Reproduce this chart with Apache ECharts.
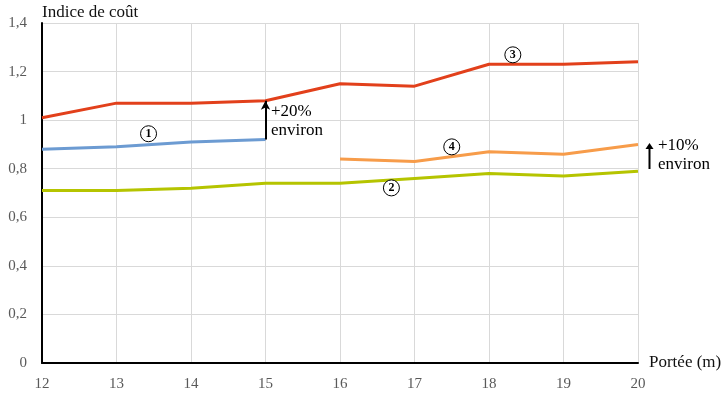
<!DOCTYPE html>
<html>
<head>
<meta charset="utf-8">
<script src="https://cdn.jsdelivr.net/npm/echarts@6/dist/echarts.min.js"></script>
<style>
  html, body { margin: 0; padding: 0; background: #fff; }
  #main { width: 726px; height: 393px; }
</style>
</head>
<body>
<div id="main"></div>
<script>
(function() {
    'use strict';
    // données
    var portee = [12, 13, 14, 15, 16, 17, 18, 19, 20];
    var serie1 = [0.88, 0.89, 0.91, 0.92, null, null, null, null, null];
    var serie2 = [0.71, 0.71, 0.72, 0.74, 0.74, 0.76, 0.78, 0.77, 0.79];
    var serie3 = [1.01, 1.07, 1.07, 1.08, 1.15, 1.14, 1.23, 1.23, 1.24];
    var serie4 = [null, null, null, null, 0.84, 0.83, 0.87, 0.86, 0.90];
    var yTicks = [0, 0.2, 0.4, 0.6, 0.8, 1, 1.2, 1.4];
    // repères numérotés [x, y, numéro]
    var reperes = [[13.43, 0.944, '1'], [16.69, 0.721, '2'], [18.32, 1.269, '3'], [17.5, 0.89, '4']];

    var FONT = 'Liberation Serif';

    function pairs(vals) {
        var out = [];
        for (var i = 0; i < portee.length; i++) {
            if (vals[i] != null) out.push([portee[i], vals[i]]);
        }
        return out;
    }

    function repere(r) {
        return {
            coord: [r[0], r[1]],
            symbol: 'circle',
            symbolSize: 16,
            itemStyle: { color: '#fff', borderColor: '#000', borderWidth: 1 },
            label: {
                show: true, position: 'inside', formatter: r[2],
                color: '#000', fontFamily: FONT, fontWeight: 'bold', fontSize: 12
            }
        };
    }

    function ligne(nom, vals, couleur, extra) {
        var s = {
            name: nom,
            type: 'line',
            data: pairs(vals),
            symbol: 'none',
            silent: true,
            animation: false,
            lineStyle: { color: couleur, width: 3 },
            itemStyle: { color: couleur },
            z: 3
        };
        if (extra) {
            for (var k in extra) s[k] = extra[k];
        }
        return s;
    }

    var chart = echarts.init(document.getElementById('main'));
    var option = {
        animation: false,
        grid: { left: 42, right: 88, top: 23, bottom: 30 },
        xAxis: {
            type: 'value',
            min: 12, max: 20, interval: 1,
            name: 'Portée (m)',
            nameLocation: 'end',
            nameGap: 11,
            nameTextStyle: { fontFamily: FONT, fontSize: 17, color: '#111', verticalAlign: 'middle' },
            axisLine: { show: true, lineStyle: { color: '#000', width: 2 } },
            axisTick: { show: false },
            axisLabel: { fontFamily: FONT, fontSize: 15, color: '#595959', margin: 14 },
            splitLine: { show: true, lineStyle: { color: '#d9d9d9', width: 1 } }
        },
        yAxis: {
            type: 'value',
            min: 0, max: 1.4, interval: 0.2,
            name: 'Indice de coût',
            nameLocation: 'end',
            nameGap: 2,
            nameTextStyle: { fontFamily: FONT, fontSize: 17, color: '#111', align: 'left' },
            axisLine: { show: true, lineStyle: { color: '#000', width: 2 } },
            axisTick: { show: false },
            axisLabel: {
                fontFamily: FONT, fontSize: 15, color: '#595959', margin: 15,
                formatter: function(v) {
                    for (var i = 0; i < yTicks.length; i++) {
                        if (Math.abs(yTicks[i] - v) < 1e-6) return String(yTicks[i]).replace('.', ',');
                    }
                    return '';
                }
            },
            splitLine: { show: true, lineStyle: { color: '#d9d9d9', width: 1 } }
        },
        series: [
            ligne('1', serie1, '#6c9bd2', {
                markPoint: { silent: true, data: [repere(reperes[0])] }
            }),
            ligne('2', serie2, '#b5c400', {
                markPoint: { silent: true, data: [repere(reperes[1])] }
            }),
            ligne('3', serie3, '#e2401b', {
                markPoint: { silent: true, data: [repere(reperes[2])] },
                markLine: {
                    silent: true,
                    symbol: ['none', 'arrow'],
                    symbolSize: [7, 9],
                    label: { show: false },
                    lineStyle: { color: '#000', width: 2, type: 'solid' },
                    data: [[{ coord: [15, serie1[3]] }, { coord: [15, serie3[3]] }]]
                }
            }),
            ligne('4', serie4, '#f79c4a', {
                markPoint: { silent: true, data: [repere(reperes[3])] }
            })
        ],
        graphic: [
            {
                type: 'text', left: 271, top: 102,
                style: { text: '+20%\nenviron', font: '17px "Liberation Serif"', fill: '#000', lineHeight: 19 }
            },
            {
                type: 'line',
                shape: { x1: 649.5, y1: 169, x2: 649.5, y2: 148 },
                style: { stroke: '#000', lineWidth: 2 }
            },
            {
                type: 'polygon',
                shape: { points: [[645.5, 149], [649.5, 143], [653.5, 149]] },
                style: { fill: '#000' }
            },
            {
                type: 'text', left: 658, top: 136,
                style: { text: '+10%\nenviron', font: '17px "Liberation Serif"', fill: '#000', lineHeight: 19 }
            }
        ]
    };
    chart.setOption(option);
})();
</script>
</body>
</html>
